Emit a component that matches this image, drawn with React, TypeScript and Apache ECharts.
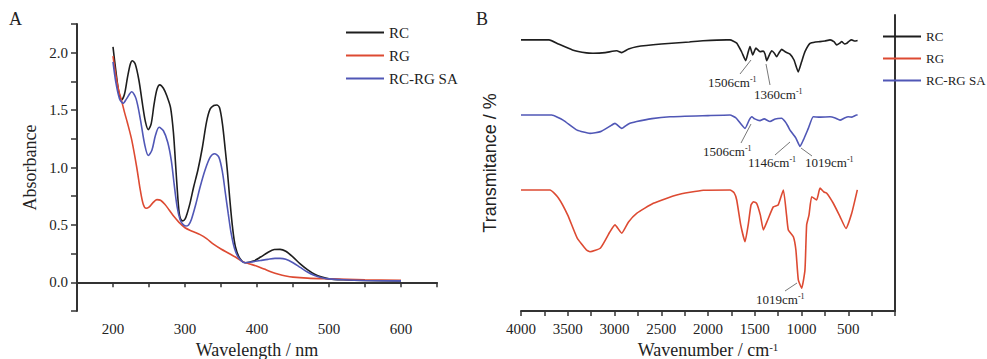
import React, { useEffect, useRef } from 'react';
import * as echarts from 'echarts';

const seriesNames = ['RC', 'RG', 'RC-RG SA'];
const seriesColors = ['#1e1e1e', '#dd4a32', '#5057b6'];

// Panel A: UV-Vis absorbance [wavelength nm, absorbance]
const uvRC = [
  [200, 2.05], [204, 1.84], [208, 1.66], [212, 1.59], [216, 1.64], [220, 1.78], [224, 1.9], [227, 1.93], [231, 1.9],
  [236, 1.76], [241, 1.55], [245, 1.4], [249, 1.33], [253, 1.38], [257, 1.55], [261, 1.68], [265, 1.72], [270, 1.69],
  [275, 1.62], [280, 1.52], [284, 1.3], [287, 1.02], [290, 0.74], [292, 0.6], [294, 0.55], [297, 0.535], [300, 0.55],
  [303, 0.6], [307, 0.69], [312, 0.83], [318, 0.98], [324, 1.17], [330, 1.4], [335, 1.51], [340, 1.54], [344, 1.545],
  [348, 1.52], [352, 1.38], [356, 1.15], [359, 0.96], [362, 0.74], [366, 0.48], [370, 0.31], [376, 0.21], [384, 0.17],
  [395, 0.185], [405, 0.22], [415, 0.26], [424, 0.285], [432, 0.287], [440, 0.27], [450, 0.22], [460, 0.16],
  [470, 0.11], [480, 0.07], [490, 0.045], [500, 0.03], [520, 0.022], [550, 0.016], [600, 0.012],
];
const uvRG = [
  [200, 1.97], [204, 1.8], [208, 1.67], [212, 1.58], [216, 1.48], [220, 1.39], [226, 1.24], [233, 1.0], [238, 0.8],
  [242, 0.68], [246, 0.645], [250, 0.655], [255, 0.69], [261, 0.72], [266, 0.715], [272, 0.68], [278, 0.63],
  [285, 0.57], [292, 0.52], [300, 0.475], [310, 0.445], [321, 0.415], [330, 0.38], [340, 0.33], [350, 0.29],
  [360, 0.255], [370, 0.22], [380, 0.18], [390, 0.16], [400, 0.14], [410, 0.115], [420, 0.09], [430, 0.07],
  [440, 0.055], [450, 0.045], [470, 0.036], [500, 0.03], [550, 0.022], [600, 0.018],
];
const uvSA = [
  [200, 1.92], [204, 1.74], [209, 1.6], [214, 1.56], [219, 1.6], [226, 1.66], [232, 1.6], [238, 1.42], [244, 1.2],
  [249, 1.105], [254, 1.15], [259, 1.28], [264, 1.35], [270, 1.32], [276, 1.22], [281, 1.06], [285, 0.85],
  [289, 0.66], [293, 0.55], [297, 0.505], [301, 0.49], [305, 0.5], [309, 0.55], [315, 0.68], [321, 0.83],
  [328, 0.98], [335, 1.09], [341, 1.12], [347, 1.09], [352, 0.96], [356, 0.78], [360, 0.6], [364, 0.43],
  [369, 0.29], [375, 0.21], [384, 0.17], [395, 0.18], [405, 0.19], [415, 0.2], [425, 0.208], [432, 0.208],
  [440, 0.2], [450, 0.17], [460, 0.13], [470, 0.09], [480, 0.06], [490, 0.04], [500, 0.03], [520, 0.022],
  [550, 0.016], [600, 0.012],
];

// Panel B: FTIR transmittance (stacked, arbitrary %) [wavenumber, value]
const irRC = [
  [4000, 91.6], [3700, 91.6], [3600, 90.2], [3450, 88.2], [3300, 87.2], [3230, 87.1], [3100, 87.3], [2976, 87.9],
  [2923, 87.3], [2850, 88.5], [2763, 89.3], [2500, 90.2], [2200, 90.9], [2053, 91.3], [1800, 91.6], [1765, 91.6],
  [1693, 90.5], [1640, 87.5], [1597, 84.6], [1570, 87.5], [1551, 89.3], [1522, 86.5], [1487, 88.8], [1444, 87.6],
  [1410, 87.8], [1390, 86.8], [1372, 84.6], [1340, 86.8], [1319, 87.9], [1290, 87.1], [1265, 85.9], [1235, 87.5],
  [1212, 88.4], [1170, 87.5], [1123, 86.8], [1080, 84.8], [1035, 80.8], [1000, 84.1], [963, 87.6], [909, 90.4],
  [850, 90.9], [802, 91.0], [750, 91.2], [695, 91.6], [650, 90.9], [624, 89.9], [590, 90.5], [570, 91.0],
  [540, 90.2], [517, 90.4], [490, 91.2], [463, 91.6], [430, 91.2], [400, 91.4],
];
const irSA = [
  [4000, 66.2], [3672, 66.2], [3550, 64.5], [3400, 61.1], [3262, 60.0], [3150, 60.6], [3050, 62.4], [2995, 63.4],
  [2923, 61.7], [2850, 63.2], [2763, 64.0], [2600, 65.0], [2406, 65.6], [2000, 66.0], [1765, 66.2], [1700, 65.2],
  [1604, 61.7], [1560, 64.5], [1532, 65.6], [1500, 64.9], [1444, 64.3], [1400, 64.9], [1337, 64.0], [1280, 64.9],
  [1212, 65.1], [1176, 64.0], [1146, 62.5], [1123, 61.1], [1060, 58.4], [1016, 55.6], [980, 57.8], [927, 61.7],
  [874, 65.6], [800, 65.5], [695, 65.6], [640, 65.2], [588, 64.5], [540, 65.2], [499, 65.6], [460, 65.5],
  [410, 66.2], [400, 66.2],
];
const irRG = [
  [4000, 40.9], [3690, 40.9], [3600, 38.2], [3500, 32.4], [3400, 24.7], [3300, 20.6], [3262, 20.0], [3150, 21.3],
  [3050, 26.7], [2995, 29.1], [2923, 26.3], [2850, 30.1], [2763, 33.0], [2585, 36.4], [2335, 39.2], [2050, 40.8],
  [1765, 40.9], [1720, 39.9], [1693, 37.5], [1650, 29.1], [1604, 23.4], [1570, 29.1], [1540, 35.8], [1515, 36.9],
  [1480, 36.4], [1440, 32.4], [1408, 27.4], [1370, 30.1], [1301, 35.2], [1250, 35.8], [1194, 40.9], [1160, 32.4],
  [1141, 27.4], [1087, 25.1], [1060, 20.6], [1034, 10.5], [998, 7.7], [963, 13.9], [945, 29.1], [920, 32.4],
  [891, 38.6], [838, 37.5], [802, 41.5], [760, 40.2], [730, 39.8], [660, 36.4], [588, 31.9], [524, 27.9],
  [463, 33.0], [403, 40.9],
];

// Peak annotations
const annotations = [
  { text: '1506cm', x: 708, y: 82, from: [740, 74], to: [751, 60] },
  { text: '1360cm', x: 754, y: 94, from: [770, 85], to: [766, 64] },
  { text: '1506cm', x: 703, y: 151, from: [741, 143], to: [751, 124] },
  { text: '1146cm', x: 748, y: 162, from: [775, 155], to: [790, 142] },
  { text: '1019cm', x: 805, y: 162, from: [812, 156], to: [801, 148] },
  { text: '1019cm', x: 756, y: 299, from: [785, 291], to: [797, 283] },
];

const serif = 'Liberation Serif, Times New Roman, serif';
const axisColor = '#333';

export default function App() {
  const ref = useRef<HTMLDivElement>(null);
  useEffect(() => {
    if (!ref.current) return;
    const chart = echarts.init(ref.current, null, { renderer: 'svg' });
    const tickLabel = { fontFamily: serif, fontSize: 15, color: '#222' };
    const mkSeries = (name: string, data: number[][], idx: number, color: string, smooth: number | boolean) => ({
      type: 'line', name, data, xAxisIndex: idx, yAxisIndex: idx, showSymbol: false, smooth,
      lineStyle: { color, width: 1.6 }, itemStyle: { color }, silent: true,
    });
    const graphics: any[] = [
      { type: 'text', left: 9, top: 10, style: { text: 'A', font: `18px ${serif}`, fill: '#222' } },
      { type: 'text', left: 476, top: 10, style: { text: 'B', font: `18px ${serif}`, fill: '#222' } },
    ];
    annotations.forEach((a) => {
      graphics.push({
        type: 'line', shape: { x1: a.from[0], y1: a.from[1], x2: a.to[0], y2: a.to[1] },
        style: { stroke: '#555', lineWidth: 0.8 },
      });
      graphics.push({
        type: 'text', x: a.x, y: a.y,
        style: {
          text: `{a|${a.text}}{s|-1}`, verticalAlign: 'middle',
          rich: {
            a: { fontFamily: serif, fontSize: 13, fill: '#222' },
            s: { fontFamily: serif, fontSize: 8, fill: '#222', verticalAlign: 'top' },
          },
        },
      });
    });
    const legendBase = {
      orient: 'vertical', data: seriesNames, icon: 'rect', itemWidth: 38, itemHeight: 2,
    };
    chart.setOption({
      animation: false,
      backgroundColor: '#fff',
      legend: [
        { ...legendBase, left: 341, top: 20, itemGap: 8, textStyle: { fontFamily: serif, fontSize: 15, color: '#222' } },
        { ...legendBase, left: 878, top: 25, itemGap: 9, textStyle: { fontFamily: serif, fontSize: 13, color: '#222' } },
      ],
      grid: [
        { left: 77, top: 24, width: 360, height: 287, outerBoundsMode: 'none', containLabel: false },
        { left: 521, top: 15, width: 374, height: 296, outerBoundsMode: 'none', containLabel: false },
      ],
      xAxis: [
        {
          type: 'value', gridIndex: 0, min: 150, max: 650, interval: 50,
          name: 'Wavelength / nm', nameLocation: 'middle', nameGap: 30,
          nameTextStyle: { fontFamily: serif, fontSize: 18, color: '#222' },
          axisLine: { lineStyle: { color: axisColor, width: 2 } },
          axisTick: { inside: false, length: 5, lineStyle: { color: axisColor, width: 1.5 } },
          splitLine: { show: false },
          axisLabel: {
            ...tickLabel, margin: 10,
            formatter: (v: number) => (v % 100 === 0 && v >= 200 && v <= 600 ? String(v) : ''),
          },
        },
        {
          type: 'value', gridIndex: 1, min: 0, max: 4000, interval: 250, inverse: true,
          name: '{a|Wavenumber / cm}{s|-1}', nameLocation: 'middle', nameGap: 30,
          nameTextStyle: {
            fontFamily: serif, fontSize: 18, color: '#222',
            rich: {
              a: { fontFamily: serif, fontSize: 18, color: '#222' },
              s: { fontFamily: serif, fontSize: 11, color: '#222', verticalAlign: 'top' },
            },
          },
          axisLine: { lineStyle: { color: axisColor, width: 2 } },
          axisTick: { inside: false, length: 5, lineStyle: { color: axisColor, width: 1.5 } },
          splitLine: { show: false },
          axisLabel: {
            ...tickLabel, margin: 10,
            formatter: (v: number) => (v % 500 === 0 && v > 0 ? String(v) : ''),
          },
        },
      ],
      yAxis: [
        {
          type: 'value', gridIndex: 0, min: -0.25, max: 2.25, interval: 0.25,
          name: 'Absorbance', nameLocation: 'middle', nameGap: 38,
          nameTextStyle: { fontFamily: serif, fontSize: 18, color: '#222' },
          axisLine: { show: true, lineStyle: { color: axisColor, width: 2 } },
          axisTick: { show: true, inside: false, length: 6, lineStyle: { color: axisColor, width: 1.5 } },
          splitLine: { show: false },
          axisLabel: {
            ...tickLabel, margin: 9,
            formatter: (v: number) => {
              const k = Math.round(v * 4);
              return k % 2 === 0 && v >= 0 && v <= 2 ? v.toFixed(1) : '';
            },
          },
        },
        {
          type: 'value', gridIndex: 1, min: 0, max: 100,
          name: 'Transmitance / %', nameLocation: 'middle', nameGap: 22,
          nameTextStyle: { fontFamily: 'Liberation Sans, Arial, sans-serif', fontSize: 18, color: '#222' },
          axisLine: { show: true, lineStyle: { color: axisColor, width: 2 } },
          axisTick: { show: false },
          axisLabel: { show: false },
          splitLine: { show: false },
        },
      ],
      series: [
        mkSeries('RC', uvRC, 0, seriesColors[0], 0.3),
        mkSeries('RG', uvRG, 0, seriesColors[1], 0.3),
        mkSeries('RC-RG SA', uvSA, 0, seriesColors[2], 0.3),
        mkSeries('RC', irRC, 1, seriesColors[0], 0.15),
        mkSeries('RC-RG SA', irSA, 1, seriesColors[2], 0.15),
        mkSeries('RG', irRG, 1, seriesColors[1], 0.15),
      ],
      graphic: graphics,
    });
    return () => chart.dispose();
  }, []);
  return <div ref={ref} style={{ width: 987, height: 359, position: 'absolute', left: 0, top: 0 }} />;
}
